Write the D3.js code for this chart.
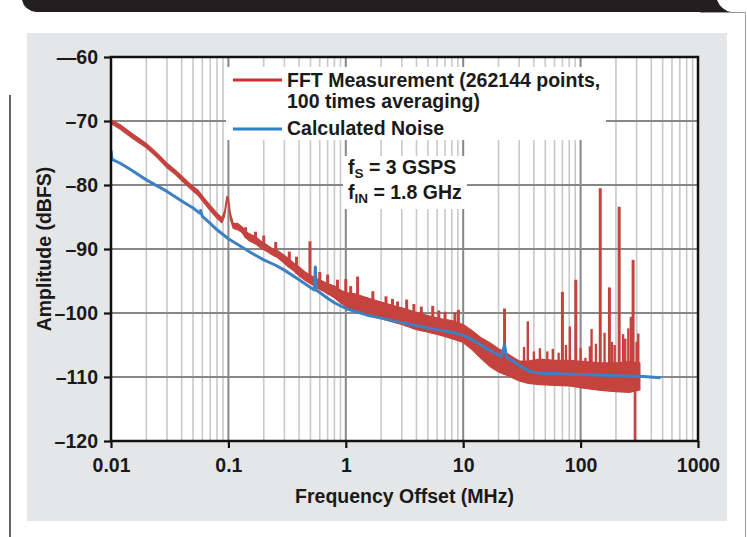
<!DOCTYPE html>
<html><head><meta charset="utf-8">
<script src="https://cdn.jsdelivr.net/npm/d3@7/dist/d3.min.js"></script>
<style>
body{margin:0;background:#fff;}
svg{display:block;font-family:"Liberation Sans",Arial,sans-serif;font-weight:bold;}
</style>
</head><body><svg id="c" width="747" height="537"></svg>
<script>
// ---------- data ----------
const xTickValues = [0.01, 0.1, 1, 10, 100, 1000];
const xTickLabels = ["0.01", "0.1", "1", "10", "100", "1000"];
const yTickValues = [-60, -70, -80, -90, -100, -110, -120];
const yTickLabels = ["\u201460", "\u201370", "\u201380", "\u201390", "\u2013100", "\u2013110", "\u2013120"];

const seriesNames = ["FFT Measurement (262144 points,", "100 times averaging)", "Calculated Noise"];

// FFT measurement: noisy trace given as lower / upper envelope
const fftFreq = [0.01,0.012,0.015,0.02,0.025,0.03,0.035,0.04,0.047,0.055,0.062,0.07,0.08,0.088,0.093,0.097,0.1,0.104,0.11,0.12,0.13,0.14,0.15,0.17,0.19,0.21,0.23,0.26,0.29,0.32,0.36,0.4,0.45,0.5,0.56,0.63,0.7,0.8,0.9,1.0,1.2,1.5,2.0,2.5,3.0,4.0,5.0,6.5,8.0,10,12,14,17,20,24,30,36,45,60,80,110,150,200,260,320];
const fftLow  = [-70.4,-71.3,-72.6,-74.2,-75.8,-77.3,-78.3,-79.3,-80.5,-81.6,-82.8,-84.0,-85.2,-85.9,-84.8,-82.6,-82.8,-85.4,-86.8,-87.0,-87.4,-88.2,-88.7,-89.2,-89.9,-90.3,-90.8,-91.3,-92.0,-92.7,-93.4,-94.2,-94.9,-95.4,-96.0,-96.5,-97.0,-97.6,-98.4,-99.0,-99.6,-100.3,-100.9,-101.4,-101.8,-102.6,-103.0,-103.5,-104.0,-104.6,-105.8,-107.0,-108.4,-109.2,-109.8,-110.6,-111.0,-111.2,-111.3,-111.4,-111.8,-112.1,-112.3,-112.4,-112.0];
const fftHigh = [-69.8,-70.6,-71.9,-73.5,-75.1,-76.6,-77.6,-78.6,-79.8,-80.8,-82.0,-83.2,-84.4,-85.1,-84.0,-81.8,-82.0,-84.4,-86.0,-86.0,-86.5,-87.2,-87.6,-88.1,-88.8,-89.3,-89.8,-90.2,-90.8,-91.4,-92.2,-92.8,-93.6,-94.1,-94.6,-95.0,-95.4,-95.8,-96.4,-96.8,-97.0,-97.6,-98.3,-98.8,-99.2,-99.9,-100.4,-100.9,-101.2,-101.8,-102.8,-103.8,-104.7,-105.6,-106.4,-107.5,-107.5,-107.2,-107.4,-107.4,-107.6,-107.8,-107.8,-107.6,-107.8];

// spurs of the FFT trace (frequency, peak level)
const spurFreq  = [0.14,0.17,0.2,0.253,0.33,0.38,0.495,0.6,0.7,0.85,1.0,1.1,1.26,1.5,1.7,2.2,2.5,2.76,3.3,3.8,4.4,5.5,6.2,7.0,8.5,9.1,22.5,33,35.5,40,45,52,58,65,70,75,81,91,100,110,120,124,135,147,160,176,185,195,213,230,240,255,268,280,300,310,290];
const spurLevel = [-86.6,-87.3,-87.9,-88.9,-90.4,-91.2,-88.8,-93.6,-94.0,-94.8,-94.7,-95.8,-94.3,-97.5,-96.6,-97.4,-97.8,-98.2,-97.9,-98.6,-99.0,-98.9,-99.6,-99.8,-99.9,-99.5,-99.3,-105.3,-101.3,-106.0,-105.5,-106.0,-105.6,-106.2,-96.7,-105.0,-102.1,-94.8,-105.5,-107.0,-105.2,-102.5,-104.8,-80.5,-103.1,-96.0,-104.5,-105.0,-83.4,-103.3,-104.0,-102.4,-100.6,-91.7,-104.5,-103.2,-120];

// Calculated noise
const noiseFreq  = [0.01,0.0102,0.012,0.015,0.02,0.03,0.04,0.05,0.057,0.058,0.06,0.07,0.08,0.1,0.13,0.16,0.2,0.25,0.3,0.4,0.5,0.54,0.55,0.56,0.6,0.7,0.8,1.0,1.5,2.0,3.0,4.0,6.0,8.0,10,12,15,18,21,22.5,23.5,27,32,38,45,100,200,320,480];
const noiseValue = [-74.6,-76.0,-76.6,-77.7,-79.2,-81.0,-82.5,-83.6,-84.4,-84.0,-84.9,-86.0,-87.0,-88.4,-89.7,-90.7,-91.7,-92.5,-93.3,-94.8,-96.0,-96.4,-92.8,-96.4,-96.8,-97.7,-98.4,-99.3,-100.3,-100.8,-101.5,-102.0,-102.6,-103.0,-103.5,-104.2,-105.3,-106.1,-106.8,-105.0,-107.0,-107.6,-108.5,-109.2,-109.4,-109.6,-109.8,-109.9,-110.1];

// ---------- drawing ----------
const svg = d3.select("#c");
const L = 111, R = 698, T = 57, B = 441;
const x = d3.scaleLog().domain([0.01, 1000]).range([L, R]);
const y = d3.scaleLinear().domain([-120, -60]).range([B, T]);

const RED = "#c5433e", BLUE = "#3d80c3";
const FS = 19.5;

// page decoration
svg.append("path")
  .attr("d", "M22,0 L717,0 Q721,10 731,12 L36,12 Q24,10 22,0 Z")
  .attr("fill", "#231f20");
svg.append("path").attr("d", "M700,12.5 L745.5,12.5 L745.5,537")
  .attr("fill", "none").attr("stroke", "#9a9a9a").attr("stroke-width", 1);
svg.append("line").attr("x1", 10).attr("x2", 10).attr("y1", 95).attr("y2", 537)
  .attr("stroke", "#666").attr("stroke-width", 2);

svg.append("rect").attr("x", 27).attr("y", 33).attr("width", 700).attr("height", 488)
  .attr("fill", "#e5e6e8");
svg.append("rect").attr("x", L).attr("y", T).attr("width", R - L).attr("height", B - T)
  .attr("fill", "#fff");

// grid
const minor = [];
for (let d = 0.01; d < 1000; d *= 10) for (let k = 2; k <= 9; k++) minor.push(d * k);
const g = svg.append("g");
g.selectAll(".mn").data(minor).join("line")
  .attr("x1", d => x(d)).attr("x2", d => x(d)).attr("y1", T).attr("y2", B)
  .attr("stroke", "#c9c9c9").attr("stroke-width", 1.6);
g.selectAll(".mj").data(xTickValues.slice(1, -1)).join("line")
  .attr("x1", d => x(d)).attr("x2", d => x(d)).attr("y1", T).attr("y2", B)
  .attr("stroke", "#878787").attr("stroke-width", 2);
g.selectAll(".hy").data(yTickValues.slice(1, -1)).join("line")
  .attr("x1", L).attr("x2", R).attr("y1", d => y(d)).attr("y2", d => y(d))
  .attr("stroke", "#878787").attr("stroke-width", 2);

// legend & annotation boxes (cover grid)
svg.append("rect").attr("x", 226).attr("y", 67).attr("width", 380).attr("height", 73).attr("fill", "#fff");
svg.append("rect").attr("x", 343).attr("y", 156).attr("width", 124).attr("height", 53).attr("fill", "#fff");

// FFT band
const band = fftFreq.map((f, i) => ({f, lo: fftLow[i], hi: fftHigh[i]}));
svg.append("clipPath").attr("id", "pc").append("rect")
  .attr("x", L).attr("y", T).attr("width", R - L).attr("height", B - T);
const dg = svg.append("g").attr("clip-path", "url(#pc)");
dg.append("path").datum(band)
  .attr("d", d3.area().x(d => x(d.f)).y0(d => y(d.lo)).y1(d => y(d.hi)))
  .attr("fill", RED).attr("stroke", RED).attr("stroke-width", 1.2).attr("stroke-linejoin", "round");

function bandAt(f, key) {
  const lf = Math.log10(f);
  for (let i = 0; i < band.length - 1; i++) {
    const a = Math.log10(band[i].f), b = Math.log10(band[i + 1].f);
    if (lf >= a && lf <= b) {
      const t = (lf - a) / (b - a);
      return band[i][key] + t * (band[i + 1][key] - band[i][key]);
    }
  }
  return band[band.length - 1][key];
}
dg.selectAll(".sp").data(spurFreq.map((f, i) => ({f, v: spurLevel[i]}))).join("line")
  .attr("x1", d => x(d.f)).attr("x2", d => x(d.f))
  .attr("y1", d => y(d.v))
  .attr("y2", d => y(d.v < -110 ? bandAt(d.f, "hi") : bandAt(d.f, "lo")))
  .attr("stroke", RED).attr("stroke-width", d => d.v > -100 ? 3 : 2.4);

// calculated noise
dg.append("path").datum(noiseFreq.map((f, i) => ({f, v: noiseValue[i]})))
  .attr("d", d3.line().x(d => x(d.f)).y(d => y(d.v)))
  .attr("fill", "none").attr("stroke", BLUE).attr("stroke-width", 3).attr("stroke-linejoin", "round");

// frame
svg.append("rect").attr("x", L).attr("y", T).attr("width", R - L).attr("height", B - T)
  .attr("fill", "none").attr("stroke", "#111").attr("stroke-width", 2.5);

// axes
const xAxis = d3.axisBottom(x).tickValues(xTickValues)
  .tickFormat((d, i) => xTickLabels[i]).tickSize(7).tickPadding(10);
const gx = svg.append("g").attr("transform", `translate(0,${B})`).call(xAxis);
gx.select(".domain").remove();
gx.selectAll(".tick line").attr("stroke", "#111").attr("stroke-width", 2.2);
gx.selectAll("text").attr("font-size", FS).attr("fill", "#1a1a1a")
  .attr("font-family", "'Liberation Sans',Arial,sans-serif").attr("font-weight", "bold");

const yAxis = d3.axisLeft(y).tickValues(yTickValues)
  .tickFormat((d, i) => yTickLabels[i]).tickSize(7).tickPadding(6);
const gy = svg.append("g").attr("transform", `translate(${L},0)`).call(yAxis);
gy.select(".domain").remove();
gy.selectAll(".tick line").attr("stroke", "#111").attr("stroke-width", 2.2);
gy.selectAll("text").attr("font-size", FS).attr("fill", "#1a1a1a")
  .attr("font-family", "'Liberation Sans',Arial,sans-serif").attr("font-weight", "bold");

// axis titles
svg.append("text").attr("x", (L + R) / 2).attr("y", 503).attr("text-anchor", "middle")
  .attr("font-size", FS).attr("fill", "#1a1a1a").text("Frequency Offset (MHz)");
svg.append("text").attr("transform", `translate(51,${(T + B) / 2}) rotate(-90)`)
  .attr("text-anchor", "middle").attr("font-size", FS).attr("fill", "#1a1a1a")
  .text("Amplitude (dBFS)");

// legend
const lg = svg.append("g");
lg.append("line").attr("x1", 233).attr("x2", 282).attr("y1", 80).attr("y2", 80)
  .attr("stroke", "#cc2f2f").attr("stroke-width", 3.2);
lg.append("line").attr("x1", 233).attr("x2", 282).attr("y1", 129).attr("y2", 129)
  .attr("stroke", "#2f80c6").attr("stroke-width", 3.2);
lg.append("text").attr("x", 287).attr("y", 87).attr("font-size", FS).attr("fill", "#1a1a1a").text(seriesNames[0]);
lg.append("text").attr("x", 287).attr("y", 108).attr("font-size", FS).attr("fill", "#1a1a1a").text(seriesNames[1]);
lg.append("text").attr("x", 287).attr("y", 135).attr("font-size", FS).attr("fill", "#1a1a1a").text(seriesNames[2]);

// annotation
const an = svg.append("g").attr("font-size", FS).attr("fill", "#1a1a1a");
const t1 = an.append("text").attr("x", 348).attr("y", 174);
t1.append("tspan").text("f");
t1.append("tspan").attr("dy", 4).attr("font-size", 13.5).text("S");
t1.append("tspan").attr("dy", -4).text(" = 3 GSPS");
const t2 = an.append("text").attr("x", 348).attr("y", 199);
t2.append("tspan").text("f");
t2.append("tspan").attr("dy", 4).attr("font-size", 13.5).text("IN");
t2.append("tspan").attr("dy", -4).text(" = 1.8 GHz");
</script>
</body></html>
